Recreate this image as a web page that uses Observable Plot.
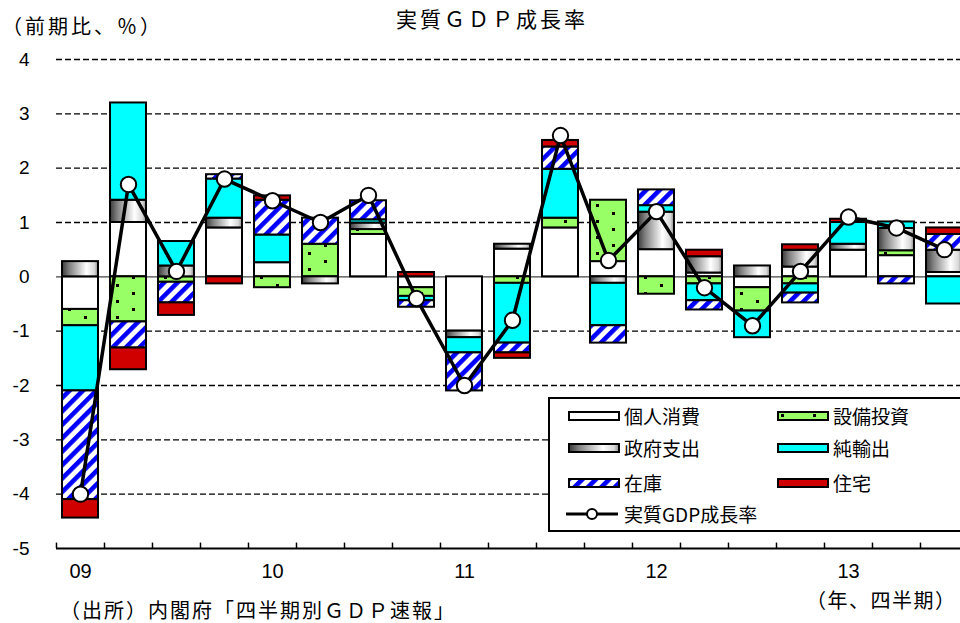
<!DOCTYPE html>
<html><head><meta charset="utf-8">
<script src="https://cdn.jsdelivr.net/npm/d3@7"></script>
<script src="https://cdn.jsdelivr.net/npm/@observablehq/plot@0.6"></script>
<style>
body{margin:0;background:#fff;}
#wrap{position:relative;width:960px;height:623px;overflow:hidden;font-family:"Noto Sans CJK JP","Noto Sans",sans-serif;color:#000;}
#chart{position:absolute;left:0;top:0;}
.t{position:absolute;white-space:nowrap;line-height:1;}
#legend{position:absolute;left:548px;top:397px;width:440px;height:131px;border:2px solid #000;background:#fff;}
.sw{position:absolute;}
</style></head>
<body>
<div id="wrap">
<svg width="0" height="0" style="position:absolute">
 <defs>
  <pattern id="pEquip" patternUnits="userSpaceOnUse" width="32" height="16">
   <rect width="32" height="16" fill="#99ff66"/>
   <rect x="4" y="4" width="3" height="3" fill="#000"/>
   <rect x="20" y="12" width="3" height="3" fill="#000"/>
  </pattern>
  <pattern id="pInv" patternUnits="userSpaceOnUse" width="9.5" height="9.5" patternTransform="rotate(45)">
   <rect width="9.5" height="9.5" fill="#fff"/>
   <rect width="4.6" height="9.5" fill="#0000ff"/>
  </pattern>
  <linearGradient id="gGov" x1="0" x2="1" y1="0" y2="0">
   <stop offset="0" stop-color="#3a3a3a"/>
   <stop offset="0.2" stop-color="#808080"/>
   <stop offset="0.68" stop-color="#ffffff"/>
   <stop offset="0.9" stop-color="#d8d8d8"/>
   <stop offset="1" stop-color="#8a8a8a"/>
  </linearGradient>
 </defs>
</svg>
<div id="chart"></div>
<div class="t" style="left:2px;top:16px;font-size:20px;letter-spacing:3px;">（前期比、％）</div>
<div class="t" style="left:396px;top:8px;font-size:21px;letter-spacing:3px;">実質ＧＤＰ成長率</div>
<div class="t" style="left:60px;top:600px;font-size:20px;letter-spacing:2px;">（出所）内閣府「四半期別ＧＤＰ速報」</div>
<div class="t" style="left:806px;top:590px;font-size:20px;letter-spacing:1.5px;">（年、四半期）</div>
<div id="legend"></div>
</div>
<script>
// ---- data ----
const quarters = ["2009Q1","2009Q2","2009Q3","2009Q4","2010Q1","2010Q2","2010Q3","2010Q4",
  "2011Q1","2011Q2","2011Q3","2011Q4","2012Q1","2012Q2","2012Q3","2012Q4","2013Q1","2013Q2","2013Q3"];
const seriesNames = ["個人消費","設備投資","政府支出","純輸出","在庫","住宅"];
const consumption = [-0.6, 1.0, 0.0, 0.9, 0.26, 0.0, 0.78, -0.2, -1.0, 0.51, 0.9, 0.28, 0.5, 0.07, -0.2, 0.18, 0.49, 0.39, 0.08];
const equipment   = [-0.3, -0.83, -0.1, 0.0, -0.2, 0.6, 0.09, -0.16, 0.0, -0.12, 0.18, 1.13, -0.32, -0.13, -0.43, -0.13, 0.0, 0.09, 0.0];
const government  = [0.28, 0.41, 0.2, 0.18, 0.0, -0.13, 0.12, 0.0, -0.12, 0.09, 0.0, -0.12, 0.69, 0.3, 0.2, 0.31, 0.11, 0.41, 0.41];
const netExports  = [-1.2, 1.79, 0.45, 0.72, 0.51, 0.0, 0.06, -0.08, -0.28, -1.1, 0.9, -0.78, 0.12, -0.31, -0.49, -0.17, 0.4, 0.12, -0.5];
const inventory   = [-2.0, -0.48, -0.38, 0.08, 0.64, 0.48, 0.35, -0.12, -0.7, -0.18, 0.41, -0.32, 0.29, -0.17, 0.0, -0.18, 0.0, -0.13, 0.29];
const housing     = [-0.34, -0.4, -0.23, -0.13, 0.08, 0.0, 0.0, 0.08, 0.0, -0.1, 0.12, 0.0, 0.0, 0.12, 0.0, 0.1, 0.06, 0.0, 0.12];
const gdp         = [-4.0, 1.7, 0.1, 1.8, 1.4, 1.0, 1.5, -0.4, -2.0, -0.8, 2.6, 0.3, 1.2, -0.2, -0.9, 0.1, 1.1, 0.9, 0.5];
const yearLabels   = ["09","10","11","12","13"];
const yearQuarters = ["2009Q1","2010Q1","2011Q1","2012Q1","2013Q1"];
const yTicks = [4,3,2,1,0,-1,-2,-3,-4,-5];
const gridValues = [4,3,2,1,-1,-2,-3,-4];
const lineLabel = "実質GDP成長率";

// ---- styles ----
const seriesFills = ["#ffffff","url(#pEquip)","url(#gGov)","#00ffff","url(#pInv)","#d00000"];

const seriesValues = [consumption, equipment, government, netExports, inventory, housing];
const rows = seriesNames.flatMap((s, i) => quarters.map((q, j) => ({q, s, v: seriesValues[i][j]})))
  .filter(d => d.v !== 0);
const gdpRows = quarters.map((q, j) => ({q, v: gdp[j]}));
const yearRows = yearLabels.map((t, i) => ({q: yearQuarters[i], t}));

const chart = Plot.plot({
  width: 960, height: 623,
  marginTop: 59, marginBottom: 75, marginLeft: 56, marginRight: 0,
  style: {background: "transparent", fontFamily: "Liberation Sans, Arial, sans-serif", color: "#000"},
  x: {type: "band", domain: quarters, range: [56, 968], paddingInner: 0.25, paddingOuter: 0.125, axis: null},
  y: {domain: [-5, 4], axis: null},
  color: {type: "ordinal", domain: seriesNames, range: seriesFills},
  marks: [
    Plot.ruleY(gridValues, {stroke: "#000", strokeWidth: 1.4, strokeDasharray: "6,3"}),
    Plot.ruleY([0], {stroke: "#444", strokeWidth: 1.2}),
    Plot.ruleY([-5], {stroke: "#000", strokeWidth: 2}),
    Plot.ruleX(quarters, {x: d => d, y1: -5, y2: -4.9, dx: -24, stroke: "#000", strokeWidth: 1.5}),
    Plot.barY(rows, Plot.stackY({x: "q", y: "v", fill: "s", stroke: "#000", strokeWidth: 2})),
    Plot.line(gdpRows, {x: "q", y: "v", stroke: "#000", strokeWidth: 3.5}),
    Plot.dot(gdpRows, {x: "q", y: "v", r: 7.7, fill: "#fff", stroke: "#000", strokeWidth: 2}),
    Plot.text(yTicks, {y: d => d, text: d => String(d), frameAnchor: "left", textAnchor: "end", dx: -27, fontSize: 19}),
    Plot.text(yearRows, {x: "q", text: "t", frameAnchor: "bottom", dy: 29, fontSize: 20})
  ]
});
document.getElementById("chart").appendChild(chart);

// ---- legend ----
const legend = document.getElementById("legend");
const legendItems = [
  {name: seriesNames[0], fill: seriesFills[0], x: 18, y: 17},
  {name: seriesNames[1], fill: seriesFills[1], x: 227, y: 17},
  {name: seriesNames[2], fill: seriesFills[2], x: 18, y: 49},
  {name: seriesNames[3], fill: seriesFills[3], x: 227, y: 49},
  {name: seriesNames[4], fill: seriesFills[4], x: 18, y: 84},
  {name: seriesNames[5], fill: seriesFills[5], x: 227, y: 84}
];
const ns = "http://www.w3.org/2000/svg";
for (const it of legendItems) {
  const svg = document.createElementNS(ns, "svg");
  svg.setAttribute("width", 54); svg.setAttribute("height", 12);
  svg.setAttribute("class", "sw");
  svg.style.left = it.x + "px"; svg.style.top = (it.y - 6) + "px";
  const r = document.createElementNS(ns, "rect");
  r.setAttribute("x", 1); r.setAttribute("y", 2); r.setAttribute("width", 50); r.setAttribute("height", 8);
  r.setAttribute("fill", it.fill); r.setAttribute("stroke", "#000"); r.setAttribute("stroke-width", 2);
  svg.appendChild(r);
  legend.appendChild(svg);
  const t = document.createElement("div");
  t.className = "t"; t.textContent = it.name;
  t.style.left = (it.x + 56) + "px"; t.style.top = (it.y - 10.5) + "px"; t.style.fontSize = "19px";
  legend.appendChild(t);
}
{
  const svg = document.createElementNS(ns, "svg");
  svg.setAttribute("width", 56); svg.setAttribute("height", 16);
  svg.setAttribute("class", "sw");
  svg.style.left = "14px"; svg.style.top = (115 - 8) + "px";
  const l = document.createElementNS(ns, "line");
  l.setAttribute("x1", 2); l.setAttribute("x2", 54); l.setAttribute("y1", 8); l.setAttribute("y2", 8);
  l.setAttribute("stroke", "#000"); l.setAttribute("stroke-width", 3);
  svg.appendChild(l);
  const c = document.createElementNS(ns, "circle");
  c.setAttribute("cx", 28); c.setAttribute("cy", 8); c.setAttribute("r", 5);
  c.setAttribute("fill", "#fff"); c.setAttribute("stroke", "#000"); c.setAttribute("stroke-width", 2);
  svg.appendChild(c);
  legend.appendChild(svg);
  const t = document.createElement("div");
  t.className = "t"; t.textContent = lineLabel;
  t.style.left = "74px"; t.style.top = (115 - 10.5) + "px"; t.style.fontSize = "19px";
  legend.appendChild(t);
}
</script>
</body></html>
